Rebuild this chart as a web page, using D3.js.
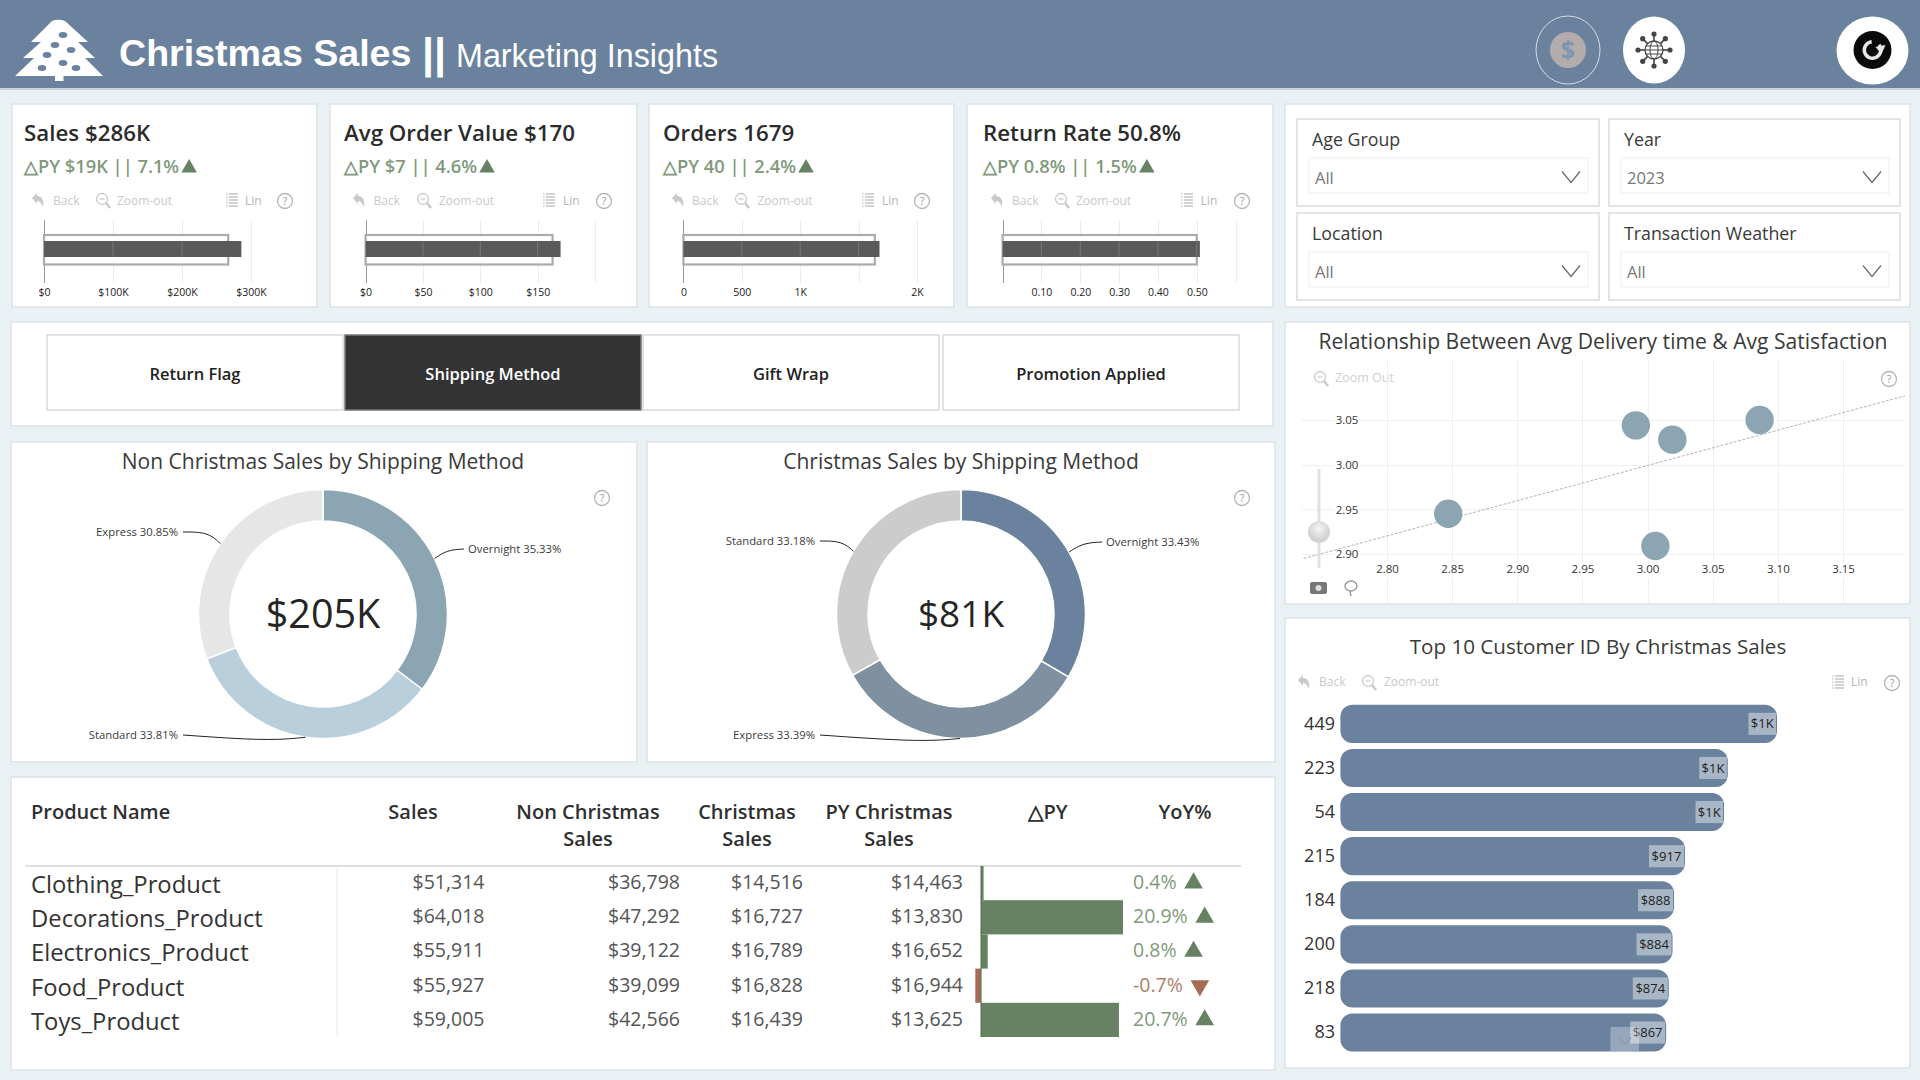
<!DOCTYPE html>
<html>
<head>
<meta charset="utf-8">
<title>Christmas Sales</title>
<script src="https://cdn.jsdelivr.net/npm/d3@7/dist/d3.min.js"></script>
<style>
  html, body { margin: 0; padding: 0; background: #EAF1F4; }
  svg { display: block; }
  text { font-family: "Open Sans", "Noto Sans", sans-serif; }
  .hd { font-family: "Liberation Sans", Arial, sans-serif; }
  .tick line { shape-rendering: crispEdges; }
</style>
</head>
<body>
<svg id="board" width="1920" height="1080"></svg>
<script>
// ---- Headline cards
const kpiTitles = ["Sales $286K", "Avg Order Value $170", "Orders 1679", "Return Rate 50.8%"];
const kpiDeltas = ["△PY $19K || 7.1%", "△PY $7 || 4.6%", "△PY 40 || 2.4%", "△PY 0.8% || 1.5%"];
const kpiActual = [286000, 170, 1679, 0.508];
const kpiPrior = [267000, 163, 1639, 0.5];
const kpiDomains = [[0, 300000], [0, 200], [0, 2000], [0, 0.6]];
const kpiTicks = [[0, 100000, 200000, 300000], [0, 50, 100, 150, 200], [0, 500, 1000, 1500, 2000], [0, 0.1, 0.2, 0.3, 0.4, 0.5, 0.6]];
const kpiTickLabels = [["$0", "$100K", "$200K", "$300K"], ["$0", "$50", "$100", "$150", ""], ["0", "500", "1K", "", "2K"], ["", "0.10", "0.20", "0.30", "0.40", "0.50", ""]];

// ---- Slicers and tabs
const slicerNames = ["Age Group", "Year", "Location", "Transaction Weather"];
const slicerValues = ["All", "2023", "All", "All"];
const tabNames = ["Return Flag", "Shipping Method", "Gift Wrap", "Promotion Applied"];

// ---- Shipping method shares
const nonXmasMethods = ["Overnight", "Standard", "Express"];
const nonXmasShares = [35.33, 33.81, 30.85];
const nonXmasColors = ["#8BA5B3", "#B9CFDB", "#E6E6E6"];
const xmasMethods = ["Overnight", "Express", "Standard"];
const xmasShares = [33.43, 33.39, 33.18];
const xmasColors = ["#6A829E", "#7F90A0", "#CCCCCC"];

// ---- Delivery time vs satisfaction
const deliveryTime = [2.991, 3.019, 3.086, 2.847, 3.006];
const satisfaction = [3.044, 3.028, 3.05, 2.945, 2.909];
const trendX = [2.736, 3.1975];
const trendY = [2.895, 3.077];

// ---- Customers
const customerIds = ["449", "223", "54", "215", "184", "200", "218", "83"];
const customerSales = [1162, 1031, 1021, 917, 888, 884, 874, 867];

// ---- Product table
const products = ["Clothing_Product", "Decorations_Product", "Electronics_Product", "Food_Product", "Toys_Product"];
const salesTotal = [51314, 64018, 55911, 55927, 59005];
const nonXmasSales = [36798, 47292, 39122, 39099, 42566];
const xmasSales = [14516, 16727, 16789, 16828, 16439];
const pyXmasSales = [14463, 13830, 16652, 16944, 13625];
const yoyPct = [0.4, 20.9, 0.8, -0.7, 20.7];

const HEADER = "#6A829E", GREEN = "#668262", GREEN_TXT = "#7F9A7B", RED = "#A56B55", FAINT = "#C9C9C9";
const svg = d3.select("#board");

function label(g, x, y, str, size, opts = {}) {
  return g.append("text")
    .attr("x", x).attr("y", y).attr("dy", "0.35em")
    .attr("font-size", size)
    .attr("font-weight", opts.weight || 400)
    .attr("fill", opts.fill || "#333")
    .attr("text-anchor", opts.anchor || "start")
    .text(str);
}

function panel(x, y, w, h) {
  svg.append("rect").attr("x", x).attr("y", y).attr("width", w).attr("height", h)
    .attr("fill", "#fff").attr("stroke", "#DDE2E5").attr("stroke-width", 1.5);
}

function helpIcon(g, x, y) {
  g.append("circle").attr("cx", x).attr("cy", y).attr("r", 7.5).attr("fill", "none").attr("stroke", "#B5B5B5").attr("stroke-width", 1.3);
  label(g, x, y, "?", 10.5, { anchor: "middle", fill: "#999" });
}
function backIcon(g, x, y) {
  g.append("path").attr("transform", `translate(${x},${y})`)
    .attr("d", "M-6,-2 L-1,-7 L-1,-4 C4,-4 6,0 5,7 C3,2 1,1 -1,1 L-1,4 Z").attr("fill", FAINT);
}
function zoomIcon(g, x, y) {
  const i = g.append("g").attr("transform", `translate(${x},${y})`).attr("fill", "none").attr("stroke", FAINT);
  i.append("circle").attr("cx", -1).attr("cy", -1).attr("r", 5.5).attr("stroke-width", 1.3);
  i.append("path").attr("d", "M3,3 L7,8").attr("stroke-width", 2.4);
  i.append("path").attr("d", "M-3.5,-1 L1.5,-1").attr("stroke-width", 1.2);
}
function listIcon(g, x, y) {
  const i = g.append("g").attr("transform", `translate(${x},${y})`).attr("stroke", "#B5B5B5").attr("stroke-width", 1.2);
  d3.range(-6, 7, 3).forEach(d => {
    i.append("path").attr("d", `M-6,${d} L-4.4,${d}`);
    i.append("path").attr("d", `M-3,${d} L6,${d}`);
  });
}
function chevron(g, x, y, rx = 9, ry = 5.5, color = "#666") {
  g.append("path").attr("d", `M${x - rx},${y - ry} L${x},${y + ry} L${x + rx},${y - ry}`)
    .attr("fill", "none").attr("stroke", color).attr("stroke-width", 1.2);
}

/* ---------- Banner ---------- */
function drawBanner() {
  svg.append("rect").attr("width", 1920).attr("height", 88).attr("fill", HEADER);
  svg.append("rect").attr("y", 88).attr("width", 1920).attr("height", 2).attr("fill", "#C9D2D9");
  const g = svg.append("g");
  g.append("path").attr("fill", "#fff")
    .attr("d", "M52,21 Q58,18.5 65,21 L88,42 L78,42 L95,58 L85,58 L103,76 L63.5,76 L63.5,81 L55,81 L55,76 L15,76 L34,58 L23,58 L41,42 L31,42 Z");
  [[63, 35], [55, 45], [71, 50], [47, 55], [63, 63], [42, 68], [76, 68]].forEach(([cx, cy]) =>
    g.append("ellipse").attr("cx", cx).attr("cy", cy).attr("rx", 4.3).attr("ry", 2.9).attr("fill", HEADER));
  label(g, 119, 53, "Christmas Sales", 37.6, { fill: "#fff", weight: 700 }).attr("class", "hd");
  label(g, 422, 53, "||", 43, { fill: "#fff", weight: 700 }).attr("class", "hd");
  label(g, 456, 56, "Marketing Insights", 32.3, { fill: "#fff" }).attr("class", "hd");

  // Dollar toggle, outlined because it is the current page
  g.append("ellipse").attr("cx", 1568).attr("cy", 50).attr("rx", 32).attr("ry", 34)
    .attr("fill", "none").attr("stroke", "#D5DDE4").attr("stroke-width", 1);
  g.append("circle").attr("cx", 1568).attr("cy", 50).attr("r", 18).attr("fill", "#B3ACAD");
  label(g, 1568, 50, "$", 25, { anchor: "middle", fill: "#7D96B0", weight: 700 });

  // Globe network toggle
  g.append("ellipse").attr("cx", 1654).attr("cy", 50).attr("rx", 31).attr("ry", 33.5).attr("fill", "#fff");
  const net = g.append("g").attr("transform", "translate(1654,50)").attr("stroke", "#444").attr("fill", "none");
  net.append("circle").attr("r", 9).attr("stroke-width", 1.3);
  net.append("ellipse").attr("rx", 4).attr("ry", 9).attr("stroke-width", 1);
  net.append("path").attr("d", "M-9,0 L9,0 M-8,-4 L8,-4 M-8,4 L8,4").attr("stroke-width", 1);
  d3.range(8).forEach(i => {
    const a = i * Math.PI / 4, c = Math.cos(a), s = Math.sin(a);
    net.append("path").attr("d", `M${9 * c},${9 * s} L${15 * c},${15 * s}`).attr("stroke-width", 1.6);
    net.append("circle").attr("cx", 16 * c).attr("cy", 16 * s).attr("r", 2.6).attr("fill", "#444").attr("stroke", "none");
  });

  // Reset button
  g.append("ellipse").attr("cx", 1872.5).attr("cy", 50.5).attr("rx", 36).attr("ry", 34).attr("fill", "#fff");
  g.append("circle").attr("cx", 1872.5).attr("cy", 50).attr("r", 19).attr("fill", "#0A0A0A");
  const arc = d3.arc().innerRadius(6.5).outerRadius(10).startAngle(0.9).endAngle(2 * Math.PI - 0.1);
  g.append("path").attr("transform", "translate(1872.5,50)").attr("d", arc()).attr("fill", "#E8E8E8");
  g.append("path").attr("transform", "translate(1872.5,50)").attr("d", "M3,-3 L13,-5 L9,4 Z").attr("fill", "#E8E8E8");
}

/* ---------- Bullet cards ---------- */
const cardRects = [[12, 305], [330, 307], [649, 305], [967, 306]];
const cardText = [24, 344, 663, 983];
const cardAxis = [[44, 251], [365.6, 595], [683.4, 917], [1002.6, 1235.6]];
const cardTools = [
  { back: 38, backT: 53, zoom: 103, zoomT: 117, list: 232, lin: 245, help: 285 },
  { back: 359, backT: 373.5, zoom: 424, zoomT: 439, list: 549, lin: 563, help: 604 },
  { back: 678, backT: 692, zoom: 742, zoomT: 757.5, list: 868, lin: 882, help: 922 },
  { back: 997, backT: 1012, zoom: 1062, zoomT: 1076, list: 1187, lin: 1200.6, help: 1242 }
];
function drawCards() {
  kpiTitles.forEach((title, i) => {
    const [cx, cw] = cardRects[i], tx = cardText[i], t = cardTools[i];
    panel(cx, 104, cw, 203);
    const g = svg.append("g");
    label(g, tx, 133, title, 22.3, { weight: 600, fill: "#2B2B2B" });
    const delta = label(g, tx, 167, kpiDeltas[i], 18.3, { weight: 600, fill: GREEN_TXT });
    // The up marker sits a few pixels clear of the delta text
    const end = tx + delta.node().getComputedTextLength();
    g.append("path").attr("d", d3.symbol(d3.symbolTriangle, 105)())
      .attr("transform", `translate(${end + 10},168)`).attr("fill", GREEN);

    backIcon(g, t.back, 200);
    label(g, t.backT, 201, "Back", 12, { fill: FAINT });
    zoomIcon(g, t.zoom, 200);
    label(g, t.zoomT, 201, "Zoom-out", 12, { fill: FAINT });
    listIcon(g, t.list, 200);
    label(g, t.lin, 201, "Lin", 12, { fill: "#B5B5B5" });
    helpIcon(g, t.help, 201);

    const x = d3.scaleLinear().domain(kpiDomains[i]).range(cardAxis[i]);
    const axis = d3.axisBottom(x).tickValues(kpiTicks[i]).tickSize(0).tickPadding(0)
      .tickFormat((d, j) => kpiTickLabels[i][j]);
    const ax = g.append("g").attr("transform", "translate(0,287)").call(axis);
    ax.select(".domain").remove();
    ax.selectAll("text").attr("font-size", 10.5).attr("font-weight", 500).attr("fill", "#222").attr("dy", "0.35em").attr("y", 5);
    ax.selectAll(".tick").insert("line", "text").attr("y1", -67).attr("y2", -4)
      .attr("stroke", d => d === 0 ? "#999" : "#EDEDED");
    const x0 = x(0);
    // Prior-year outline, with the current value laid over it
    g.append("rect").attr("x", x0).attr("y", 235).attr("width", x(kpiPrior[i]) - x0).attr("height", 29.5)
      .attr("fill", "#fff").attr("stroke", "#ABABAB").attr("stroke-width", 2.2);
    g.append("rect").attr("x", x0).attr("y", 241).attr("width", x(kpiActual[i]) - x0).attr("height", 16)
      .attr("fill", "#5A5A5A");
    kpiTicks[i].slice(1).forEach(v => {
      if (v < kpiActual[i]) g.append("line").attr("x1", x(v)).attr("x2", x(v)).attr("y1", 241).attr("y2", 257).attr("stroke", "#777").attr("stroke-width", 1);
    });
  });
}

/* ---------- Slicers ---------- */
function drawSlicers() {
  panel(1285, 104, 625, 203);
  const boxes = [[1297, 119, 302], [1609, 119, 291], [1297, 213, 302], [1609, 213, 291]];
  slicerNames.forEach((name, i) => {
    const [x, y, w] = boxes[i], g = svg.append("g");
    g.append("rect").attr("x", x).attr("y", y).attr("width", w).attr("height", 87)
      .attr("fill", "#fff").attr("stroke", "#D6D6D6").attr("stroke-width", 1.3);
    g.append("rect").attr("x", x + 12).attr("y", y + 39).attr("width", w - 23).attr("height", 35)
      .attr("fill", "#fff").attr("stroke", "#EEEEEE");
    label(g, x + 15, y + 21, name, 17.8, { fill: "#3A3A3A", weight: 500 });
    label(g, x + 18, y + 59, slicerValues[i], 16.5, { fill: "#777" });
    chevron(g, x + w - 28, y + 58);
  });
}

/* ---------- Tabs ---------- */
function drawTabs() {
  panel(11, 322, 1262, 104);
  const tabX = [47, 345, 643, 943];
  tabNames.forEach((name, i) => {
    const g = svg.append("g"), on = i === 1;
    g.append("rect").attr("x", tabX[i]).attr("y", 335).attr("width", 296).attr("height", 75)
      .attr("fill", on ? "#333" : "#fff").attr("stroke", on ? "#777" : "#D9D9D9").attr("stroke-width", 1.5);
    label(g, tabX[i] + 148, 374, name, 16.5, { anchor: "middle", weight: 600, fill: on ? "#fff" : "#222" });
  });
}

/* ---------- Donuts ---------- */
function drawDonut(opt) {
  panel(opt.px, 442, opt.pw, 320);
  const g = svg.append("g");
  label(g, opt.cx, 462, opt.title, 21, { anchor: "middle", fill: "#3A3A3A", weight: 500 });
  helpIcon(g, opt.help, 498);
  const pie = d3.pie().sort(null).value((d, i) => opt.shares[i]);
  const arcs = pie(opt.names);
  const arc = d3.arc().innerRadius(93).outerRadius(124.5);
  const center = g.append("g").attr("transform", `translate(${opt.cx},614)`);
  center.selectAll("path.slice").data(arcs).join("path").attr("class", "slice")
    .attr("d", arc).attr("fill", (d, i) => opt.colors[i]).attr("stroke", "#fff").attr("stroke-width", 1.5);
  label(center, 0, 0, opt.total, opt.totalSize, { anchor: "middle", fill: "#252525" });

  const leader = d3.line().curve(d3.curveBasis);
  arcs.forEach((a, i) => {
    const mid = (a.startAngle + a.endAngle) / 2;
    const p = [124.5 * Math.sin(mid), -124.5 * Math.cos(mid)];
    const { tx, ty, elbow, anchor } = opt.labels[i];
    const side = anchor === "start" ? -4 : 5;
    const end = [tx - opt.cx + side, ty - 614];
    center.append("path").attr("d", leader([p, [elbow[0] - opt.cx, elbow[1] - 614], end]))
      .attr("fill", "none").attr("stroke", "#222").attr("stroke-width", 1);
    label(g, tx, ty, `${opt.names[i]} ${opt.shares[i].toFixed(2)}%`, 11.3, { anchor, fill: "#3A3A3A" });
  });
}

/* ---------- Scatter ---------- */
function drawScatter() {
  panel(1285, 322, 625, 282);
  const g = svg.append("g");
  label(g, 1603, 342, "Relationship Between Avg Delivery time & Avg Satisfaction", 21.1, { anchor: "middle", fill: "#3A3A3A", weight: 500 });
  zoomIcon(g, 1321, 378);
  label(g, 1335, 378, "Zoom Out", 12.5, { fill: "#CFCFCF" });
  helpIcon(g, 1889, 379);

  const x = d3.scaleLinear().domain([2.8, 3.15]).range([1387, 1843]);
  const y = d3.scaleLinear().domain([2.9, 3.05]).range([554, 420]);
  const fmt = d3.format(".2f");

  const xa = g.append("g").attr("transform", "translate(0,569)")
    .call(d3.axisBottom(x).tickValues(d3.range(2.8, 3.151, 0.05)).tickFormat(fmt).tickSize(0).tickPadding(0));
  xa.select(".domain").remove();
  xa.selectAll("text").attr("font-size", 11.5).attr("fill", "#333").attr("dy", "0.35em").attr("y", 0);
  xa.selectAll(".tick").insert("line", "text").attr("y1", -209).attr("y2", -7).attr("stroke", "#EFEFEF");
  xa.selectAll(".tick").insert("line", "text").attr("y1", 9).attr("y2", 35).attr("stroke", "#EFEFEF");

  const ya = g.append("g").attr("transform", "translate(1347,0)")
    .call(d3.axisLeft(y).tickValues([2.9, 2.95, 3, 3.05]).tickFormat(fmt).tickSize(0).tickPadding(0));
  ya.select(".domain").remove();
  ya.selectAll("text").attr("font-size", 11.5).attr("fill", "#333").attr("text-anchor", "middle").attr("x", 0);
  ya.selectAll(".tick").insert("line", "text").attr("x1", -45).attr("x2", -13).attr("stroke", "#EFEFEF");
  ya.selectAll(".tick").insert("line", "text").attr("x1", 13).attr("x2", 557).attr("stroke", "#EFEFEF");

  g.append("line").attr("x1", x(trendX[0])).attr("y1", y(trendY[0])).attr("x2", x(trendX[1])).attr("y2", y(trendY[1]))
    .attr("stroke", "#B5B5B5").attr("stroke-width", 1).attr("stroke-dasharray", "3 1.5");

  g.selectAll("circle.pt").data(deliveryTime).join("circle").attr("class", "pt")
    .attr("cx", d => x(d)).attr("cy", (d, i) => y(satisfaction[i])).attr("r", 14.2)
    .attr("fill", "#8BA5B3");

  // Zoom slider and the lasso controls under it
  g.append("line").attr("x1", 1319).attr("x2", 1319).attr("y1", 469).attr("y2", 568).attr("stroke", "#E0E0E0").attr("stroke-width", 3);
  const grad = svg.append("defs").append("radialGradient").attr("id", "thumb").attr("cx", "50%").attr("cy", "35%");
  grad.append("stop").attr("offset", "0%").attr("stop-color", "#F5F5F5");
  grad.append("stop").attr("offset", "100%").attr("stop-color", "#D2D2D2");
  g.append("circle").attr("cx", 1319).attr("cy", 532).attr("r", 11).attr("fill", "url(#thumb)");
  g.append("rect").attr("x", 1310).attr("y", 582).attr("width", 17).attr("height", 12).attr("rx", 2).attr("fill", "#777");
  g.append("circle").attr("cx", 1318.5).attr("cy", 588).attr("r", 3).attr("fill", "#DDD");
  g.append("ellipse").attr("cx", 1351).attr("cy", 586).attr("rx", 6).attr("ry", 5).attr("fill", "none").attr("stroke", "#999").attr("stroke-width", 1.4);
  g.append("path").attr("d", "M1350,591 L1351,596").attr("stroke", "#999").attr("stroke-width", 1.4);
}

/* ---------- Customer bars ---------- */
function drawBars() {
  panel(1285, 618, 625, 450);
  const g = svg.append("g");
  label(g, 1598, 647, "Top 10 Customer ID By Christmas Sales", 20.6, { anchor: "middle", fill: "#3A3A3A", weight: 500 });
  backIcon(g, 1304, 682);
  label(g, 1319, 682, "Back", 12, { fill: FAINT });
  zoomIcon(g, 1369, 682);
  label(g, 1384, 682, "Zoom-out", 12, { fill: FAINT });
  listIcon(g, 1838, 682);
  label(g, 1851, 682, "Lin", 12, { fill: "#B5B5B5" });
  helpIcon(g, 1892, 683);

  const x = d3.scaleLinear().domain([0, customerSales[0]]).range([1340.4, 1777]);
  const y = d3.scaleBand().domain(customerIds).range([701.8, 1054.6]).paddingInner(0.136).paddingOuter(0.068);
  const ya = g.append("g").attr("transform", "translate(1340,0)").call(d3.axisLeft(y).tickSize(0).tickPadding(5));
  ya.select(".domain").remove();
  ya.selectAll("text").attr("font-size", 18).attr("fill", "#333");

  const fmt = v => v >= 1000 ? "$1K" : "$" + v;
  g.selectAll("rect.bar").data(customerSales).join("rect").attr("class", "bar")
    .attr("x", x(0)).attr("y", (d, i) => y(customerIds[i]))
    .attr("width", d => x(d) - x(0)).attr("height", y.bandwidth()).attr("rx", 12)
    .attr("fill", HEADER);
  customerSales.forEach((v, i) => {
    const w = v >= 1000 ? 27.5 : 35, top = y(customerIds[i]) + 8;
    g.append("rect").attr("x", x(v) - w - 1).attr("y", top).attr("width", w).attr("height", y.bandwidth() - 16)
      .attr("fill", "#fff").attr("fill-opacity", 0.42);
    label(g, x(v) - 1 - w / 2, top + (y.bandwidth() - 16) / 2, fmt(v), 13, { anchor: "middle", fill: "#222" });
  });
  // Scroll affordance over the last bar
  g.append("rect").attr("x", 1610.5).attr("y", 1027).attr("width", 28.5).attr("height", 24).attr("fill", "#fff").attr("fill-opacity", 0.3);
  chevron(g, 1625, 1041, 6, 3.5, "#8B9AAC");
}

/* ---------- Product table ---------- */
function drawTable() {
  panel(11, 777, 1264, 293);
  const g = svg.append("g");
  const heads = [
    ["Product Name", "", 31, "start"], ["Sales", "", 413, "middle"], ["Non Christmas", "Sales", 588, "middle"],
    ["Christmas", "Sales", 747, "middle"], ["PY Christmas", "Sales", 889, "middle"], ["△PY", "", 1048, "middle"], ["YoY%", "", 1185, "middle"]
  ];
  heads.forEach(([a, b, x, anchor]) => {
    label(g, x, 812, a, 20, { weight: 600, anchor, fill: "#2F2F2F" });
    if (b) label(g, x, 839, b, 20, { weight: 600, anchor, fill: "#2F2F2F" });
  });
  g.append("line").attr("x1", 25).attr("x2", 1241).attr("y1", 866).attr("y2", 866).attr("stroke", "#D6D6D6").attr("stroke-width", 1.5);
  g.append("line").attr("x1", 337).attr("x2", 337).attr("y1", 866).attr("y2", 1037).attr("stroke", "#E8E8E8");

  const rowY = d3.scaleBand().domain(products).range([866, 1037]);
  const delta = xmasSales.map((v, i) => v - pyXmasSales[i]);
  const dx = d3.scaleLinear().domain([0, 2897]).range([981, 1123]);
  const money = d3.format("$,");
  const cols = [[salesTotal, 484.5], [nonXmasSales, 680], [xmasSales, 803], [pyXmasSales, 963]];

  products.forEach((name, i) => {
    const cy = rowY(name) + rowY.bandwidth() / 2;
    label(g, 31, cy + 1.5, name, 23.8, { fill: "#333" });
    cols.forEach(([arr, xr]) => label(g, xr, cy - 1, money(arr[i]), 19.5, { anchor: "end", fill: "#555" }));

    const v = delta[i], up = v >= 0;
    g.append("rect").attr("x", Math.min(dx(0), dx(v))).attr("y", rowY(name)).attr("width", Math.abs(dx(v) - dx(0))).attr("height", rowY.bandwidth())
      .attr("fill", up ? GREEN : RED);

    const txt = yoyPct[i].toFixed(1) + "%";
    const t = label(g, 1133, cy - 1, txt, 19.5, { fill: up ? GREEN_TXT : "#B07F6C" });
    const end = 1133 + t.node().getComputedTextLength();
    g.append("path").attr("d", d3.symbol(d3.symbolTriangle, 150)())
      .attr("transform", `translate(${end + 17},${cy}) rotate(${up ? 0 : 180})`)
      .attr("fill", up ? GREEN : RED);
  });
  g.append("line").attr("x1", dx(0)).attr("x2", dx(0)).attr("y1", 866).attr("y2", 1037).attr("stroke", "#4E6A4B").attr("stroke-width", 1);
}

drawBanner();
drawCards();
drawSlicers();
drawTabs();
drawDonut({
  px: 11, pw: 626, cx: 323, help: 602, title: "Non Christmas Sales by Shipping Method", total: "$205K", totalSize: 39.5,
  names: nonXmasMethods, shares: nonXmasShares, colors: nonXmasColors,
  labels: [
    { tx: 468, ty: 549, elbow: [447, 550], anchor: "start" },
    { tx: 178, ty: 735, elbow: [268, 741], anchor: "end" },
    { tx: 178, ty: 532, elbow: [208, 532], anchor: "end" }
  ]
});
drawDonut({
  px: 647, pw: 628, cx: 961, help: 1242, title: "Christmas Sales by Shipping Method", total: "$81K", totalSize: 37,
  names: xmasMethods, shares: xmasShares, colors: xmasColors,
  labels: [
    { tx: 1106, ty: 542, elbow: [1083, 543], anchor: "start" },
    { tx: 815, ty: 735, elbow: [920, 742], anchor: "end" },
    { tx: 815, ty: 541, elbow: [842, 541], anchor: "end" }
  ]
});
drawScatter();
drawBars();
drawTable();
</script>
</body>
</html>
